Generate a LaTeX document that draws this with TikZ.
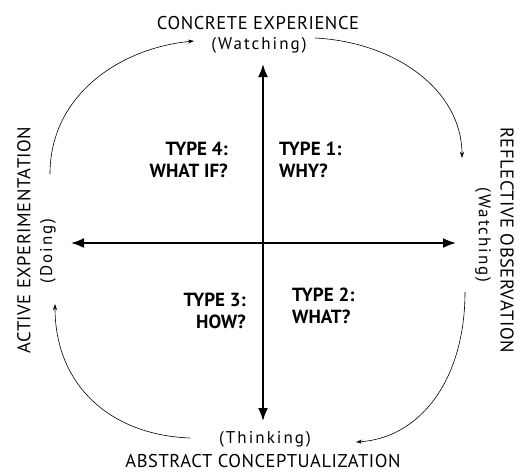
\documentclass[tikz,border=0pt]{standalone}
\usepackage{fontspec}
\setmainfont{PT Sans}
\usetikzlibrary{arrows.meta}
\begin{document}
\begin{tikzpicture}[x=1pt,y=-1pt,
  lbl/.style={inner sep=0pt,font=\fontsize{18.5}{20}\selectfont\addfontfeature{LetterSpace=3}},
  sub/.style={inner sep=0pt,font=\fontsize{17}{19}\selectfont\addfontfeature{LetterSpace=12}},
  typ/.style={inner sep=0pt,font=\bfseries\fontsize{19}{22}\selectfont,align=left},
  axis/.style={line width=1.8pt,-{Latex[length=13pt,width=10pt]}},
  cyc/.style={line width=0.6pt,-{Stealth[length=6pt,width=4pt]}}]
\useasboundingbox (0,0) rectangle (520,472);
% labels
\node[lbl] (ce) at (258,23.5) {CONCRETE EXPERIENCE};
\node[sub] (cew) at (259,45) {(Watching)};
\node[sub] (act) at (265,439) {(Thinking)};
\node[lbl] (ac) at (263,461) {ABSTRACT CONCEPTUALIZATION};
\node[lbl,rotate=90] (ae) at (24,240) {ACTIVE EXPERIMENTATION};
\node[sub,rotate=90] (aed) at (48,251) {(Doing)};
\node[lbl,rotate=-90] (ro) at (507,240) {REFLECTIVE OBSERVATION};
\node[sub,rotate=-90] (row) at (483,235) {(Watching)};
% axes
\coordinate (c) at (263,243);
\coordinate (top) at (263,64);
\coordinate (bot) at (263,421);
\coordinate (lft) at (71,243);
\coordinate (rgt) at (456,243);
\draw[axis] (c) -- (top);
\draw[axis] (c) -- (bot);
\draw[axis] (c) -- (lft);
\draw[axis] (c) -- (rgt);
% quadrant texts
\node[typ,anchor=north west] (t1) at (279,142) {TYPE 1:\\WHY?};
\node[typ,anchor=north east,align=right] (t4) at (228,142) {TYPE 4:\\WHAT IF?};
\node[typ,anchor=north east,align=right] (t3) at (246,293) {TYPE 3:\\HOW?};
\node[typ,anchor=north west] (t2) at (292,288) {TYPE 2:\\WHAT?};
% cycle arrows
\coordinate (a1) at (50,174);
\coordinate (a2) at (194,41);
\coordinate (b1) at (315,38);
\coordinate (b2) at (462,158);
\coordinate (d1) at (465,292);
\coordinate (d2) at (356,442);
\coordinate (e1) at (190,438);
\coordinate (e2) at (55,304);
\draw[cyc] (a1) .. controls (50,95) and (120,48) .. (a2);
\draw[cyc] (b1) .. controls (395,42) and (462,90) .. (b2);
\draw[cyc] (d1) .. controls (465,380) and (420,438) .. (d2);
\draw[cyc] (e1) .. controls (110,435) and (55,385) .. (e2);
\end{tikzpicture}
\end{document}
